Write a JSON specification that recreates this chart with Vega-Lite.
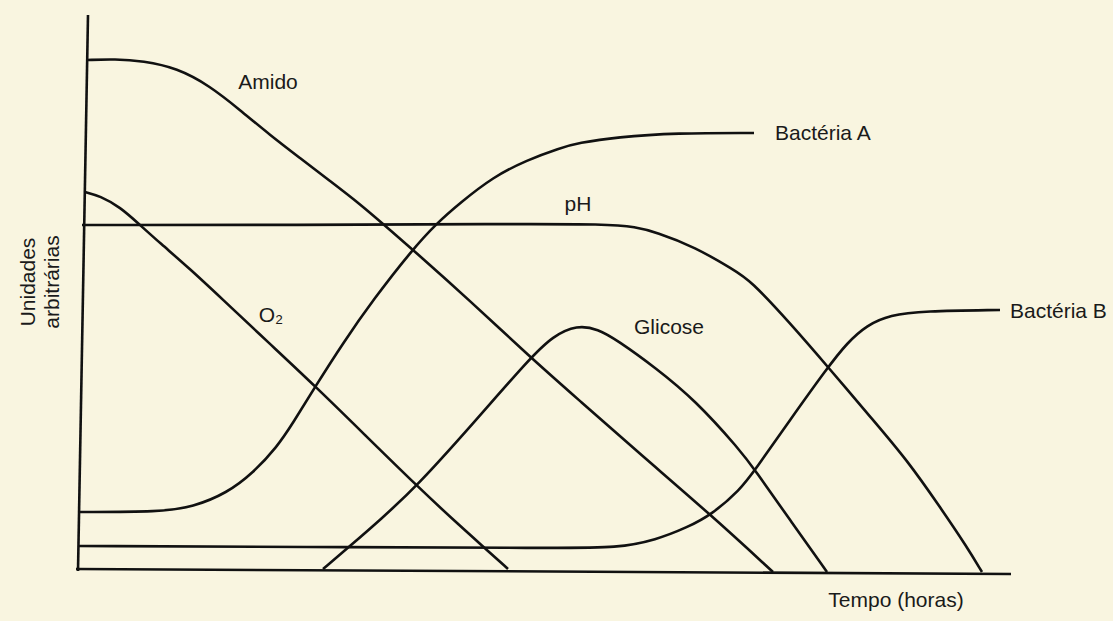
{
  "$schema": "https://vega.github.io/schema/vega-lite/v6.json",
  "width": 1113,
  "height": 621,
  "autosize": {"type": "fit", "contains": "padding"},
  "padding": 0,
  "background": "#f9f5e0",
  "config": {"view": {"stroke": null}},
  "datasets": {
    "axes": [
      {"t": 0.08, "u": 5.57, "t2": -0.02, "u2": 0.01},
      {"t": -0.04, "u": 0.03, "t2": 9.31, "u2": -0.02}
    ],
    "curves": [
      {"s": "Amido", "t": 0.07, "u": 5.12},
      {"s": "Amido", "t": 0.35, "u": 5.13},
      {"s": "Amido", "t": 0.63, "u": 5.11},
      {"s": "Amido", "t": 0.97, "u": 5.04},
      {"s": "Amido", "t": 1.30, "u": 4.86},
      {"s": "Amido", "t": 1.60, "u": 4.62},
      {"s": "Amido", "t": 1.90, "u": 4.37},
      {"s": "Amido", "t": 2.20, "u": 4.14},
      {"s": "Amido", "t": 2.50, "u": 3.91},
      {"s": "Amido", "t": 2.80, "u": 3.68},
      {"s": "Amido", "t": 3.10, "u": 3.42},
      {"s": "Amido", "t": 3.40, "u": 3.16},
      {"s": "Amido", "t": 3.87, "u": 2.74},
      {"s": "Amido", "t": 4.50, "u": 2.15},
      {"s": "Amido", "t": 5.00, "u": 1.71},
      {"s": "Amido", "t": 5.60, "u": 1.18},
      {"s": "Amido", "t": 6.31, "u": 0.57},
      {"s": "Amido", "t": 6.93, "u": 0.00},

      {"s": "O2", "t": 0.05, "u": 3.80},
      {"s": "O2", "t": 0.20, "u": 3.76},
      {"s": "O2", "t": 0.40, "u": 3.65},
      {"s": "O2", "t": 0.60, "u": 3.47},
      {"s": "O2", "t": 0.80, "u": 3.29},
      {"s": "O2", "t": 1.10, "u": 3.03},
      {"s": "O2", "t": 1.40, "u": 2.75},
      {"s": "O2", "t": 1.90, "u": 2.28},
      {"s": "O2", "t": 2.35, "u": 1.86},
      {"s": "O2", "t": 2.85, "u": 1.37},
      {"s": "O2", "t": 3.37, "u": 0.86},
      {"s": "O2", "t": 3.80, "u": 0.46},
      {"s": "O2", "t": 4.07, "u": 0.22},
      {"s": "O2", "t": 4.28, "u": 0.03},

      {"s": "pH", "t": 0.02, "u": 3.47},
      {"s": "pH", "t": 2.20, "u": 3.47},
      {"s": "pH", "t": 4.20, "u": 3.48},
      {"s": "pH", "t": 5.29, "u": 3.48},
      {"s": "pH", "t": 5.55, "u": 3.45},
      {"s": "pH", "t": 5.76, "u": 3.40},
      {"s": "pH", "t": 6.15, "u": 3.25},
      {"s": "pH", "t": 6.54, "u": 3.02},
      {"s": "pH", "t": 6.70, "u": 2.92},
      {"s": "pH", "t": 7.10, "u": 2.49},
      {"s": "pH", "t": 7.48, "u": 2.05},
      {"s": "pH", "t": 7.93, "u": 1.52},
      {"s": "pH", "t": 8.27, "u": 1.12},
      {"s": "pH", "t": 8.60, "u": 0.65},
      {"s": "pH", "t": 8.87, "u": 0.25},
      {"s": "pH", "t": 9.02, "u": 0.00},

      {"s": "Bactéria A", "t": 0.00, "u": 0.60},
      {"s": "Bactéria A", "t": 0.80, "u": 0.60},
      {"s": "Bactéria A", "t": 1.13, "u": 0.65},
      {"s": "Bactéria A", "t": 1.47, "u": 0.79},
      {"s": "Bactéria A", "t": 1.73, "u": 0.99},
      {"s": "Bactéria A", "t": 1.97, "u": 1.25},
      {"s": "Bactéria A", "t": 2.13, "u": 1.49},
      {"s": "Bactéria A", "t": 2.35, "u": 1.85},
      {"s": "Bactéria A", "t": 2.63, "u": 2.29},
      {"s": "Bactéria A", "t": 2.93, "u": 2.72},
      {"s": "Bactéria A", "t": 3.32, "u": 3.22},
      {"s": "Bactéria A", "t": 3.57, "u": 3.49},
      {"s": "Bactéria A", "t": 3.80, "u": 3.69},
      {"s": "Bactéria A", "t": 4.13, "u": 3.95},
      {"s": "Bactéria A", "t": 4.47, "u": 4.12},
      {"s": "Bactéria A", "t": 4.80, "u": 4.24},
      {"s": "Bactéria A", "t": 4.98, "u": 4.29},
      {"s": "Bactéria A", "t": 5.37, "u": 4.35},
      {"s": "Bactéria A", "t": 5.96, "u": 4.39},
      {"s": "Bactéria A", "t": 6.74, "u": 4.39},

      {"s": "Glicose", "t": 2.43, "u": 0.03},
      {"s": "Glicose", "t": 2.70, "u": 0.26},
      {"s": "Glicose", "t": 3.00, "u": 0.52},
      {"s": "Glicose", "t": 3.37, "u": 0.86},
      {"s": "Glicose", "t": 3.90, "u": 1.45},
      {"s": "Glicose", "t": 4.50, "u": 2.14},
      {"s": "Glicose", "t": 4.73, "u": 2.36},
      {"s": "Glicose", "t": 4.97, "u": 2.47},
      {"s": "Glicose", "t": 5.18, "u": 2.43},
      {"s": "Glicose", "t": 5.37, "u": 2.32},
      {"s": "Glicose", "t": 5.76, "u": 2.04},
      {"s": "Glicose", "t": 6.15, "u": 1.72},
      {"s": "Glicose", "t": 6.60, "u": 1.22},
      {"s": "Glicose", "t": 6.75, "u": 1.02},
      {"s": "Glicose", "t": 7.10, "u": 0.52},
      {"s": "Glicose", "t": 7.47, "u": 0.00},

      {"s": "Bactéria B", "t": -0.01, "u": 0.26},
      {"s": "Bactéria B", "t": 2.20, "u": 0.25},
      {"s": "Bactéria B", "t": 4.80, "u": 0.24},
      {"s": "Bactéria B", "t": 5.37, "u": 0.24},
      {"s": "Bactéria B", "t": 5.76, "u": 0.32},
      {"s": "Bactéria B", "t": 6.08, "u": 0.45},
      {"s": "Bactéria B", "t": 6.31, "u": 0.57},
      {"s": "Bactéria B", "t": 6.60, "u": 0.82},
      {"s": "Bactéria B", "t": 6.75, "u": 1.02},
      {"s": "Bactéria B", "t": 7.10, "u": 1.52},
      {"s": "Bactéria B", "t": 7.48, "u": 2.05},
      {"s": "Bactéria B", "t": 7.67, "u": 2.29},
      {"s": "Bactéria B", "t": 7.87, "u": 2.47},
      {"s": "Bactéria B", "t": 8.10, "u": 2.57},
      {"s": "Bactéria B", "t": 8.43, "u": 2.61},
      {"s": "Bactéria B", "t": 9.20, "u": 2.62}
    ],
    "labelsCenter": [
      {"txt": "Amido", "t": 1.88, "u": 4.89},
      {"txt": "pH", "t": 4.98, "u": 3.67},
      {"txt": "O₂", "t": 1.91, "u": 2.56},
      {"txt": "Glicose", "t": 5.89, "u": 2.44},
      {"txt": "Tempo (horas)", "t": 8.16, "u": -0.29}
    ],
    "labelsLeft": [
      {"txt": "Bactéria A", "t": 6.95, "u": 4.38},
      {"txt": "Bactéria B", "t": 9.30, "u": 2.60}
    ],
    "ytitle": [
      {"txt": "Unidades", "t": -0.51, "u": 2.90},
      {"txt": "arbitrárias", "t": -0.27, "u": 2.90}
    ]
  },
  "layer": [
    {
      "data": {"name": "axes"},
      "mark": {"type": "rule", "color": "#111111", "strokeWidth": 2.6},
      "encoding": {
        "x": {"field": "t", "type": "quantitative", "scale": {"domain": [-0.8, 10.33], "nice": false, "zero": false}, "axis": null},
        "y": {"field": "u", "type": "quantitative", "scale": {"domain": [-0.49, 5.72], "nice": false, "zero": false}, "axis": null},
        "x2": {"field": "t2"},
        "y2": {"field": "u2"}
      }
    },
    {
      "data": {"name": "curves"},
      "mark": {"type": "line", "interpolate": "basis", "color": "#111111", "strokeWidth": 2.6},
      "encoding": {
        "x": {"field": "t", "type": "quantitative", "scale": {"domain": [-0.8, 10.33], "nice": false, "zero": false}, "axis": null},
        "y": {"field": "u", "type": "quantitative", "scale": {"domain": [-0.49, 5.72], "nice": false, "zero": false}, "axis": null},
        "detail": {"field": "s", "type": "nominal"}
      }
    },
    {
      "data": {"name": "labelsCenter"},
      "mark": {"type": "text", "font": "Liberation Sans", "fontSize": 21, "color": "#1a1a1a", "baseline": "middle", "align": "center"},
      "encoding": {
        "x": {"field": "t", "type": "quantitative", "scale": {"domain": [-0.8, 10.33], "nice": false, "zero": false}, "axis": null},
        "y": {"field": "u", "type": "quantitative", "scale": {"domain": [-0.49, 5.72], "nice": false, "zero": false}, "axis": null},
        "text": {"field": "txt"}
      }
    },
    {
      "data": {"name": "labelsLeft"},
      "mark": {"type": "text", "font": "Liberation Sans", "fontSize": 21, "color": "#1a1a1a", "baseline": "middle", "align": "left"},
      "encoding": {
        "x": {"field": "t", "type": "quantitative", "scale": {"domain": [-0.8, 10.33], "nice": false, "zero": false}, "axis": null},
        "y": {"field": "u", "type": "quantitative", "scale": {"domain": [-0.49, 5.72], "nice": false, "zero": false}, "axis": null},
        "text": {"field": "txt"}
      }
    },
    {
      "data": {"name": "ytitle"},
      "mark": {"type": "text", "font": "Liberation Sans", "fontSize": 21, "color": "#1a1a1a", "baseline": "middle", "align": "center", "angle": 270},
      "encoding": {
        "x": {"field": "t", "type": "quantitative", "scale": {"domain": [-0.8, 10.33], "nice": false, "zero": false}, "axis": null},
        "y": {"field": "u", "type": "quantitative", "scale": {"domain": [-0.49, 5.72], "nice": false, "zero": false}, "axis": null},
        "text": {"field": "txt"}
      }
    }
  ]
}
